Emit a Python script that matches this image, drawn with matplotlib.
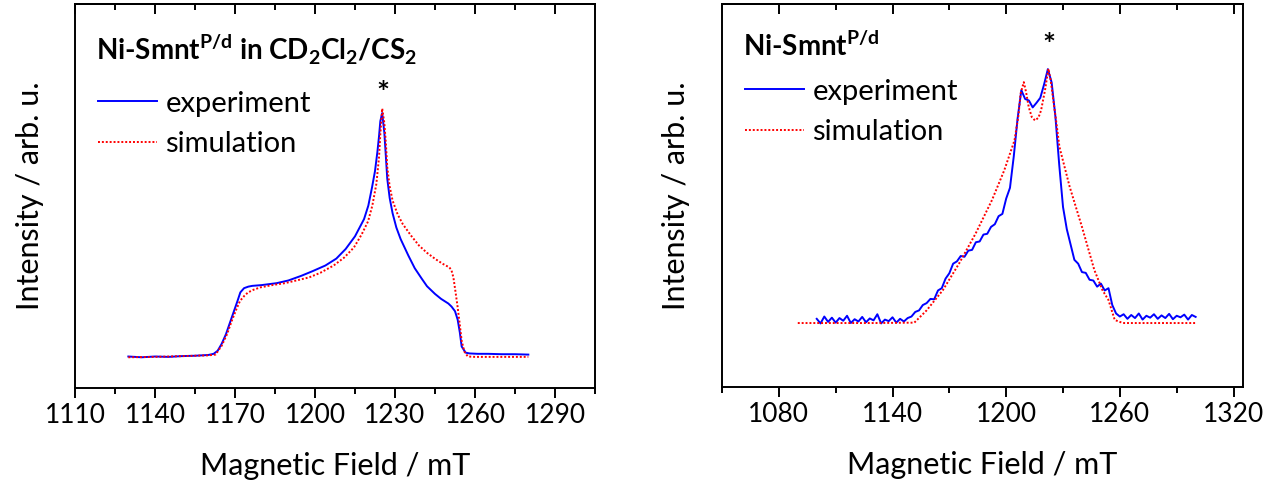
import matplotlib
matplotlib.use("Agg")
import matplotlib.pyplot as plt
from matplotlib.ticker import MultipleLocator

plt.rcParams['font.family'] = ['Lato', 'DejaVu Sans']
plt.rcParams['mathtext.fontset'] = 'custom'
plt.rcParams['mathtext.bf'] = 'Lato:bold'
plt.rcParams['mathtext.rm'] = 'Lato'

# --- left panel: Ni-Smnt in CD2Cl2/CS2 ---
exp1_x = [1130, 1135, 1140, 1145, 1150, 1155, 1160, 1162, 1163.5, 1165, 1166.6, 1168, 1169.6,
          1171, 1172, 1173.4, 1175, 1176.5, 1180, 1185.6, 1190, 1194.8, 1199, 1203.9, 1208,
          1211.5, 1215, 1218.4, 1220, 1221.4, 1222.5, 1223.4, 1224.0, 1224.5, 1225.2, 1226.0,
          1226.6, 1227.1, 1228, 1229.1, 1230.5, 1232.1, 1235, 1237.4, 1240, 1242, 1245, 1247.3,
          1250, 1251.2, 1252.5, 1253.5, 1254.3, 1255.0, 1256.5, 1258, 1261, 1264.9, 1270, 1275, 1280]
exp1_y = [0.082, 0.080, 0.082, 0.081, 0.083, 0.084, 0.086, 0.089, 0.097, 0.115, 0.140, 0.168, 0.200,
          0.228, 0.249, 0.260, 0.264, 0.266, 0.268, 0.273, 0.280, 0.292, 0.304, 0.319, 0.337,
          0.362, 0.395, 0.440, 0.475, 0.523, 0.565, 0.615, 0.655, 0.695, 0.716, 0.665,
          0.600, 0.545, 0.495, 0.455, 0.418, 0.388, 0.345, 0.312, 0.285, 0.265, 0.245, 0.232,
          0.220, 0.212, 0.200, 0.178, 0.145, 0.108, 0.092, 0.090, 0.089, 0.089, 0.088, 0.088, 0.087]

sim1_x = [1130, 1140, 1150, 1160, 1162.7, 1165, 1167, 1168.8, 1170.5, 1171.9, 1173.5, 1174.9,
          1177, 1179.5, 1184, 1188.7, 1193, 1197.8, 1202, 1207, 1211, 1214.6, 1217.5, 1219.9,
          1221.5, 1223, 1224, 1224.5, 1225.2, 1226, 1226.6, 1227.1, 1228, 1229.1, 1231, 1232.9,
          1236, 1239, 1242, 1245.1, 1248, 1250.4, 1251.2, 1251.9, 1252.7, 1253.5, 1254.3, 1255,
          1256, 1257.3, 1260, 1270, 1280]
sim1_y = [0.080, 0.081, 0.083, 0.085, 0.087, 0.110, 0.140, 0.175, 0.205, 0.227, 0.240, 0.249,
          0.256, 0.262, 0.268, 0.273, 0.280, 0.288, 0.300, 0.319, 0.340, 0.366, 0.400, 0.434,
          0.475, 0.531, 0.600, 0.661, 0.728, 0.690, 0.635, 0.575, 0.525, 0.488, 0.452, 0.427,
          0.397, 0.371, 0.352, 0.336, 0.323, 0.314, 0.306, 0.288, 0.250, 0.210, 0.165, 0.123,
          0.095, 0.082, 0.081, 0.081, 0.081]

# --- right panel: Ni-Smnt (powder) ---
exp2_x = list(range(1100, 1301, 2))
exp2_y = [0.178, 0.166, 0.184, 0.170, 0.181, 0.168, 0.180, 0.173, 0.186, 0.167, 0.177, 0.171,
          0.183, 0.169, 0.179, 0.174, 0.190, 0.166, 0.176, 0.172, 0.182, 0.168, 0.178, 0.171,
          0.180, 0.184, 0.196, 0.200, 0.214, 0.219, 0.230, 0.229, 0.252, 0.258, 0.283, 0.297,
          0.322, 0.328, 0.342, 0.340, 0.356, 0.358, 0.378, 0.380, 0.398, 0.400, 0.418, 0.425,
          0.446, 0.452, 0.492, 0.520, 0.602, 0.700, 0.775, 0.752, 0.748, 0.730, 0.742, 0.755,
          0.790, 0.830, 0.795, 0.705, 0.580, 0.470, 0.412, 0.372, 0.332, 0.322, 0.300, 0.298,
          0.280, 0.278, 0.262, 0.270, 0.252, 0.258, 0.214, 0.192, 0.184, 0.190, 0.178, 0.188,
          0.180, 0.192, 0.176, 0.186, 0.181, 0.190, 0.178, 0.187, 0.180, 0.191, 0.177, 0.186,
          0.182, 0.189, 0.176, 0.188, 0.183]

sim2_x = [1090, 1110, 1130, 1151.5, 1158, 1166.6, 1175.2, 1183.9, 1192.5, 1199, 1204.4, 1206.5,
          1207.6, 1209.3, 1210.5, 1211.9, 1213.5, 1215.2, 1217, 1218.4, 1220.5, 1222.3, 1223.5,
          1224.9, 1226.5, 1228.1, 1233.5, 1240, 1246.5, 1250.8, 1254, 1257.3, 1261.6, 1280, 1300]
sim2_y = [0.167, 0.167, 0.167, 0.168, 0.200, 0.253, 0.323, 0.401, 0.488, 0.566, 0.644, 0.710,
          0.766, 0.796, 0.770, 0.731, 0.705, 0.696, 0.703, 0.722, 0.775, 0.831, 0.800,
          0.748, 0.690, 0.627, 0.523, 0.418, 0.306, 0.253, 0.227, 0.175, 0.167, 0.167, 0.167]

blue = '#0000ff'
red = '#ff0000'

fig = plt.figure(figsize=(12.84, 4.94), dpi=100)
ax1 = fig.add_axes([75 / 1284, 1 - 388 / 494, 520 / 1284, 384 / 494])
ax2 = fig.add_axes([722 / 1284, 1 - 387 / 494, 521 / 1284, 383 / 494])


def style(ax, xlim, major, minor, ypad):
    ax.set_xlim(*xlim)
    ax.set_ylim(0, 1)
    ax.xaxis.set_major_locator(MultipleLocator(major))
    ax.xaxis.set_minor_locator(MultipleLocator(minor))
    ax.set_yticks([])
    for s in ax.spines.values():
        s.set_linewidth(1.4)
    ax.tick_params(axis='x', which='major', direction='out', length=7, width=1.4,
                   labelsize=19, pad=4)
    ax.tick_params(axis='x', which='minor', direction='out', length=4, width=1.4)
    # inward ticks along the top edge
    top = ax.secondary_xaxis('top')
    top.xaxis.set_major_locator(MultipleLocator(major))
    top.xaxis.set_minor_locator(MultipleLocator(minor))
    top.tick_params(axis='x', which='major', direction='in', length=7, width=1.4,
                    labeltop=False)
    top.tick_params(axis='x', which='minor', direction='in', length=4, width=1.4)
    top.spines['top'].set_linewidth(1.4)
    ax.set_xlabel('Magnetic Field / mT', fontsize=22, labelpad=17)
    ax.set_ylabel('Intensity / arb. u.', fontsize=22, labelpad=ypad)


style(ax1, (1110, 1305), 30, 15, 22)
style(ax2, (1050, 1325), 60, 30, 23)

ax1.plot(exp1_x, exp1_y, color=blue, lw=1.4, label='experiment')
ax1.plot(sim1_x, sim1_y, color=red, lw=1.4, ls=(0, (1, 1)), label='simulation')
ax2.plot(exp2_x, exp2_y, color=blue, lw=1.4, label='experiment')
ax2.plot(sim2_x, sim2_y, color=red, lw=1.4, ls=(0, (1, 1)), label='simulation')

ax1.text(0.04, 0.88, r'Ni-Smnt$^{\mathbf{P/d}}$ in CD$_\mathbf{2}$Cl$_\mathbf{2}$/CS$_\mathbf{2}$',
         transform=ax1.transAxes, fontsize=20, fontweight='bold', va='center', ha='left')
ax2.text(0.04, 0.89, r'Ni-Smnt$^{\mathbf{P/d}}$',
         transform=ax2.transAxes, fontsize=20, fontweight='bold', va='center', ha='left')

ax1.text(1225.6, 0.765, '*', fontsize=22, fontweight='bold', ha='center', va='center')
ax2.text(1222.6, 0.89, '*', fontsize=22, fontweight='bold', ha='center', va='center')

for ax, y in ((ax1, 0.835), (ax2, 0.866)):
    ax.legend(loc='upper left', bbox_to_anchor=(0.0, y), frameon=False, fontsize=21,
              handlelength=2.0, handletextpad=0.3, labelspacing=0.5, borderaxespad=0.4)

fig.savefig('out.png', dpi=100)
